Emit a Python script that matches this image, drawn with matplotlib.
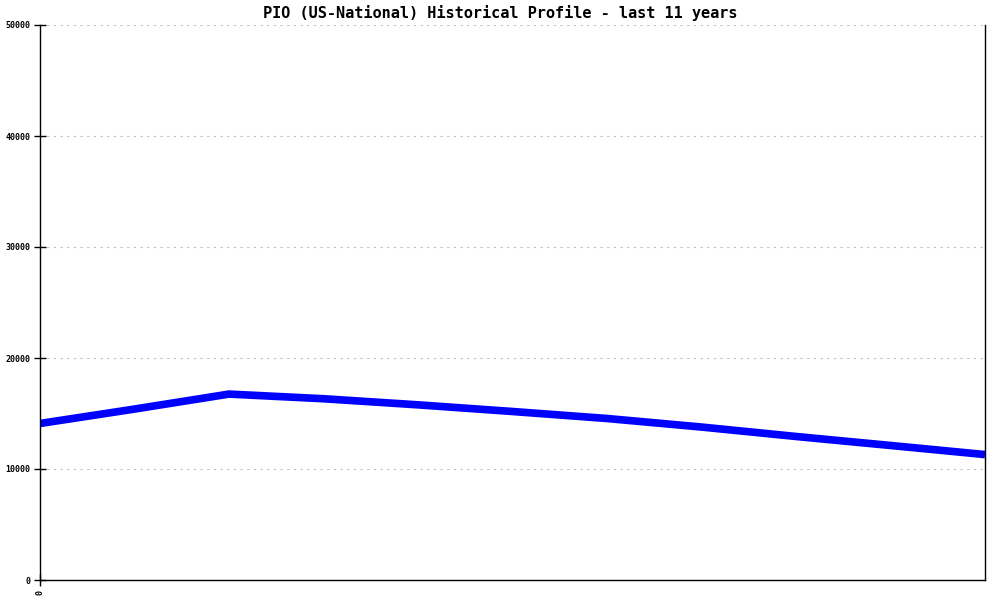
import matplotlib
matplotlib.use('Agg')
import matplotlib.pyplot as plt

# Данные
years = list(range(11))
values = [14100, 15400, 16750, 16330, 15780, 15180, 14550, 13780, 12930, 12120, 11300]
yticks = [0, 10000, 20000, 30000, 40000, 50000]

fig = plt.figure(figsize=(10, 6), dpi=100)
ax = fig.add_axes([0.04, 1 - 580/600, 0.945, 555/600])

ax.plot(years, values, color='#0000ff', linewidth=5.5, solid_capstyle='butt')

ax.set_xlim(0, 10)
ax.set_ylim(0, 50000)
ax.set_yticks(yticks)
ax.set_yticklabels([str(v) for v in yticks], fontsize=6, family='DejaVu Sans Mono',
                   fontweight='bold')
ax.set_xticks([0])
ax.set_xticklabels(['0'], rotation=90, fontsize=6, family='DejaVu Sans Mono',
                   fontweight='bold')
ax.tick_params(axis='both', direction='inout', length=8, width=1, pad=3)

ax.grid(axis='y', color='#c0c0c0', linestyle=(0, (2, 4)), linewidth=0.8)
ax.set_axisbelow(True)
ax.spines['top'].set_visible(False)
for s in ['left', 'bottom', 'right']:
    ax.spines[s].set_linewidth(1)

fig.text(0.5, 0.978, 'PIO (US-National) Historical Profile - last 11 years',
         ha='center', va='center', fontsize=11, family='DejaVu Sans Mono',
         fontweight='bold')

fig.savefig('out.png', dpi=100)
